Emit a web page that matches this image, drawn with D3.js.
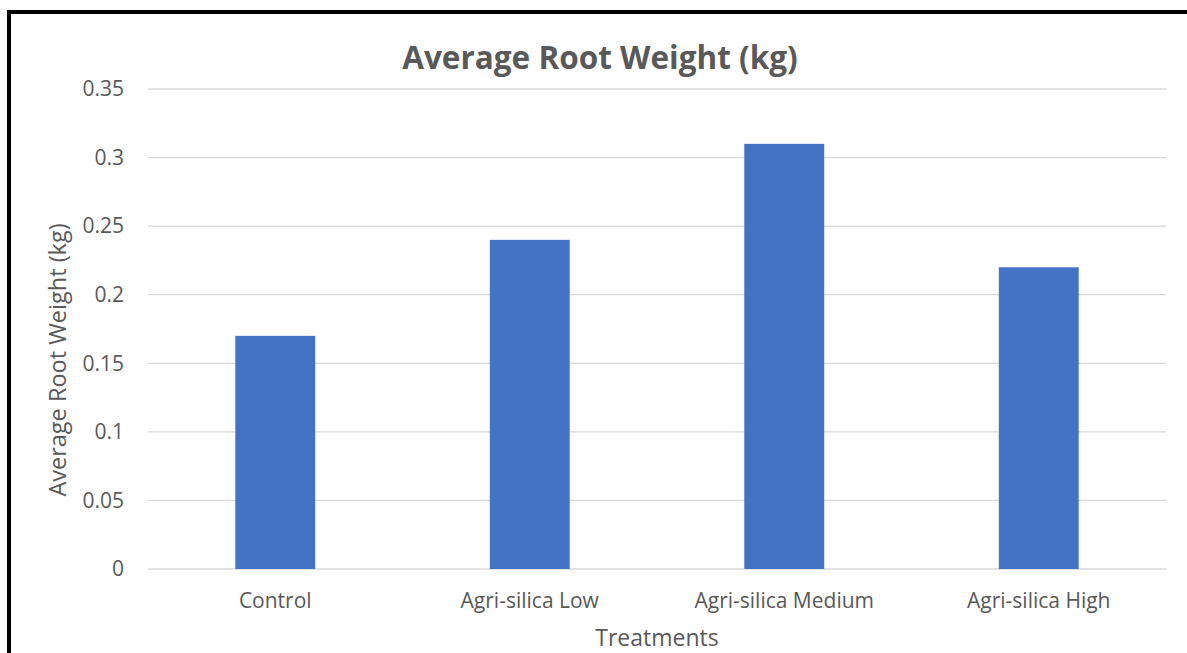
<!DOCTYPE html>
<html>
<head>
<meta charset="utf-8">
<script src="https://cdn.jsdelivr.net/npm/d3@7"></script>
<style>
    body { margin: 0; background: #fff; }
    text { font-family: "Open Sans", "Noto Sans", sans-serif; fill: #595959; }
</style>
</head>
<body>
<div id="chart"></div>
<script>
// data
const treatments = ["Control", "Agri-silica Low", "Agri-silica Medium", "Agri-silica High"];
const rootWeights = [0.17, 0.24, 0.31, 0.22];
const yTicks = [0, 0.05, 0.1, 0.15, 0.2, 0.25, 0.3, 0.35];
const yTickLabels = ["0", "0.05", "0.1", "0.15", "0.2", "0.25", "0.3", "0.35"];

const width = 1187, height = 653;
const margin = {top: 89, right: 21, bottom: 84, left: 148};

let svg = d3.select("#chart").append("svg")
    .attr("width", width)
    .attr("height", height);

svg.append("rect").attr("width", width).attr("height", height).attr("fill", "#fff");

// outer border of the chart area (runs off the right/bottom edge)
svg.append("rect")
    .attr("x", 9).attr("y", 12)
    .attr("width", width + 20).attr("height", height + 20)
    .attr("fill", "none")
    .attr("stroke", "#000")
    .attr("stroke-width", 4);

let innerW = width - margin.left - margin.right;
let innerH = height - margin.top - margin.bottom;

let g = svg.append("g").attr("transform", `translate(${margin.left},${margin.top})`);

let x = d3.scaleBand()
    .domain(treatments)
    .range([0, innerW])
    .paddingInner(0.686)
    .paddingOuter(0.343);

let y = d3.scaleLinear().domain([0, 0.35]).range([innerH, 0]);

// gridlines
g.selectAll(".grid")
    .data(yTicks)
    .enter().append("line")
    .attr("class", "grid")
    .attr("x1", 0).attr("x2", innerW)
    .attr("y1", d => y(d)).attr("y2", d => y(d))
    .attr("stroke", "#d9d9d9")
    .attr("stroke-width", 1.3);

// y tick labels
g.selectAll(".ylab")
    .data(yTicks)
    .enter().append("text")
    .attr("class", "ylab")
    .attr("x", -24)
    .attr("y", d => y(d))
    .attr("dy", "0.35em")
    .attr("text-anchor", "end")
    .style("font-size", "21px")
    .text((d, i) => yTickLabels[i]);

// bars
g.selectAll(".bar")
    .data(rootWeights)
    .enter().append("rect")
    .attr("class", "bar")
    .attr("x", (d, i) => x(treatments[i]))
    .attr("width", x.bandwidth())
    .attr("y", d => y(d))
    .attr("height", d => innerH - y(d))
    .attr("fill", "#4472C4");

// x tick labels
g.selectAll(".xlab")
    .data(treatments)
    .enter().append("text")
    .attr("class", "xlab")
    .attr("x", d => x(d) + x.bandwidth() / 2)
    .attr("y", innerH + 39)
    .attr("text-anchor", "middle")
    .style("font-size", "21px")
    .text(d => d);

// axis titles
svg.append("text")
    .attr("x", margin.left + innerW / 2)
    .attr("y", 646)
    .attr("text-anchor", "middle")
    .style("font-size", "23px")
    .text("Treatments");

svg.append("text")
    .attr("transform", `translate(66, ${margin.top + innerH / 2 + 31}) rotate(-90)`)
    .attr("text-anchor", "middle")
    .style("font-size", "23.5px")
    .text("Average Root Weight (kg)");

// title
svg.append("text")
    .attr("x", 600)
    .attr("y", 69)
    .attr("text-anchor", "middle")
    .style("font-size", "31.5px")
    .style("font-weight", "bold")
    .text("Average Root Weight (kg)");
</script>
</body>
</html>
